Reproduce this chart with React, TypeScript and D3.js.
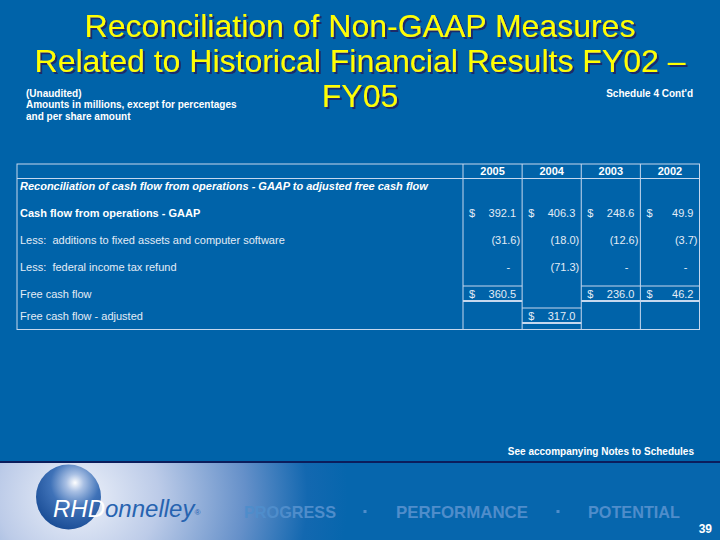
import React from "react";
import * as d3 from "d3";

// values in $ millions
const years = ["2005", "2004", "2003", "2002"];
const cashFlowOps = [392.1, 406.3, 248.6, 49.9];
const fixedAssetAdds = [-31.6, -18.0, -12.6, -3.7];
const taxRefund = [0, -71.3, 0, 0];
const freeCashFlow = [360.5, null, 236.0, 46.2];
const freeCashFlowAdj = [null, 317.0, null, null];

const rowIds = ["section", "cfo", "capex", "tax", "fcf", "fcfAdj"];
const rowLabels = [
  "Reconciliation of cash flow from operations - GAAP to adjusted free cash flow",
  "Cash flow from operations - GAAP",
  "Less:\u00a0 additions to fixed assets and computer software",
  "Less:\u00a0 federal income tax refund",
  "Free cash flow",
  "Free cash flow - adjusted",
];
const rowValues: (number | null)[][] = [[], cashFlowOps, fixedAssetAdds, taxRefund, freeCashFlow, freeCashFlowAdj];
const dollarRows = ["cfo", "fcf", "fcfAdj"];
const titleLines = ["Reconciliation of Non-GAAP Measures", "Related to Historical Financial Results FY02 –", "FY05"];
const taglineWords = ["PROGRESS", "PERFORMANCE", "POTENTIAL"];

const W = 720, H = 540;
const FONT = "Arial, 'Liberation Sans', Helvetica, sans-serif";
const BG = "#0063a9";
const LINE = "#c6d8ee";
const TXT = "#e3ecf6";

const tableLeft = 17, tableTop = 164, headBottom = 178.5, tableBottom = 329.5;

export default function App() {
  const x = d3.scaleBand<string>().domain(years).range([463, 699.5]);
  const y = d3.scaleOrdinal<string, number>().domain(rowIds).range([186, 212.5, 240, 267, 294, 316]);
  const tagX = [244, 396, 588];
  const tagW = [92, 132, 92];
  const fmt = d3.format(".1f");

  const cells: React.ReactElement[] = [];
  const rules: React.ReactElement[] = [];
  rowIds.forEach((id, ri) => {
    const vals = rowValues[ri];
    vals.forEach((v, ci) => {
      if (v === null || v === undefined) return;
      const c0 = x(years[ci])!;
      const c1 = c0 + x.bandwidth();
      const yy = y(id) + 4;
      if (dollarRows.includes(id)) {
        cells.push(<text key={`d${id}${ci}`} x={c0 + 6} y={yy} fill={TXT}>$</text>);
        // totals get a rule above and a heavier one below
        if (id !== "cfo") {
          rules.push(<line key={`a${id}${ci}`} x1={c0} x2={c1} y1={y(id) - 8} y2={y(id) - 8} stroke={LINE} />);
          rules.push(<line key={`b${id}${ci}`} x1={c0} x2={c1} y1={y(id) + 7} y2={y(id) + 7} stroke={LINE} strokeWidth={2} />);
        }
      }
      let s: string;
      let xe = c1 - 6;
      if (v === 0) { s = "-"; xe = c1 - 12; }
      else if (v < 0) { s = `(${fmt(-v)})`; xe = c1 - 2; }
      else s = fmt(v);
      cells.push(<text key={`v${id}${ci}`} x={xe} y={yy} textAnchor="end" fill={TXT}>{s}</text>);
    });
  });

  return (
    <svg width={W} height={H} style={{ position: "fixed", left: 0, top: 0 }} fontFamily={FONT}>
      <defs>
        <radialGradient id="foot" gradientUnits="userSpaceOnUse" cx={78} cy={497} r={270}
          gradientTransform="translate(78 497) scale(1 0.9) translate(-78 -497)">
          <stop offset="0" stopColor="#eef2fa" />
          <stop offset="0.3" stopColor="#bccbe8" />
          <stop offset="0.62" stopColor="#6590c9" />
          <stop offset="0.85" stopColor="#1368b0" />
          <stop offset="1" stopColor="#0666ad" />
        </radialGradient>
        <radialGradient id="ball" cx="0.6" cy="0.3" r="0.75" fx="0.6" fy="0.28">
          <stop offset="0" stopColor="#ffffff" />
          <stop offset="0.18" stopColor="#a9c0e4" />
          <stop offset="0.5" stopColor="#3f72b8" />
          <stop offset="1" stopColor="#174a93" />
        </radialGradient>
        <filter id="shadow" x="-5%" y="-20%" width="110%" height="150%">
          <feDropShadow dx={2} dy={2} stdDeviation={0.4} floodColor="#1c2b6b" floodOpacity={1} />
        </filter>
      </defs>
      <rect width={W} height={H} fill={BG} />

      {/* title */}
      <g fontSize={32} textAnchor="middle" fill="#ffff00" filter="url(#shadow)">
        {titleLines.map((t, i) => (
          <text key={t} x={360} y={37 + i * 35}>{t}</text>
        ))}
      </g>
      <g fontSize={10} fontWeight="bold" fill="#ffffff">
        <text x={26} y={97}>(Unaudited)</text>
        <text x={26} y={108}>Amounts in millions, except for percentages</text>
        <text x={26} y={119.5}>and per share amount</text>
        <text x={693} y={96.5} textAnchor="end">Schedule 4 Cont'd</text>
      </g>

      {/* table grid */}
      <g stroke={LINE} strokeWidth={1} fill="none">
        <rect x={tableLeft} y={tableTop} width={699.5 - tableLeft} height={tableBottom - tableTop} />
        <line x1={tableLeft} x2={699.5} y1={headBottom} y2={headBottom} />
        {years.map((yr) => (
          <line key={yr} x1={x(yr)} x2={x(yr)} y1={tableTop} y2={tableBottom} />
        ))}
      </g>
      {rules}
      <g fontSize={11}>
        {years.map((yr) => (
          <text key={yr} x={x(yr)! + x.bandwidth() / 2} y={175} textAnchor="middle" fontWeight="bold" fill="#ffffff">{yr}</text>
        ))}
        {rowIds.map((id, i) => (
          <text key={id} x={20} y={y(id) + 4}
            fill={i < 2 ? "#ffffff" : TXT}
            fontWeight={i < 2 ? "bold" : "normal"}
            fontStyle={i === 0 ? "italic" : "normal"}>{rowLabels[i]}</text>
        ))}
        {cells}
      </g>

      <text x={694} y={454.5} textAnchor="end" fontSize={10} fontWeight="bold" fill="#ffffff">See accompanying Notes to Schedules</text>

      {/* footer band */}
      <rect x={0} y={463} width={W} height={H - 463} fill="url(#foot)" />
      <rect x={0} y={461} width={W} height={2} fill="#0b1d5c" />
      <circle cx={68.5} cy={497} r={32.5} fill="url(#ball)" />
      <text x={53} y={517} fontSize={24} fontStyle="italic" fill="#ffffff">RHD<tspan fill="#2763b0">onnelley</tspan><tspan fontSize={8} dy={-2} fill="#2763b0">®</tspan></text>
      <g fontSize={17} fontWeight="bold" fill="#4f8dcb">
        {taglineWords.map((w, i) => (
          <text key={w} x={tagX[i]} y={518} textLength={tagW[i]} lengthAdjust="spacingAndGlyphs">{w}</text>
        ))}
        {[365, 558].map((cx) => (
          <rect key={cx} x={cx - 1.5} y={510} width={3} height={3} />
        ))}
      </g>
      <text x={712} y={533} textAnchor="end" fontSize={12} fontWeight="bold" fill="#ffffff">39</text>
    </svg>
  );
}
